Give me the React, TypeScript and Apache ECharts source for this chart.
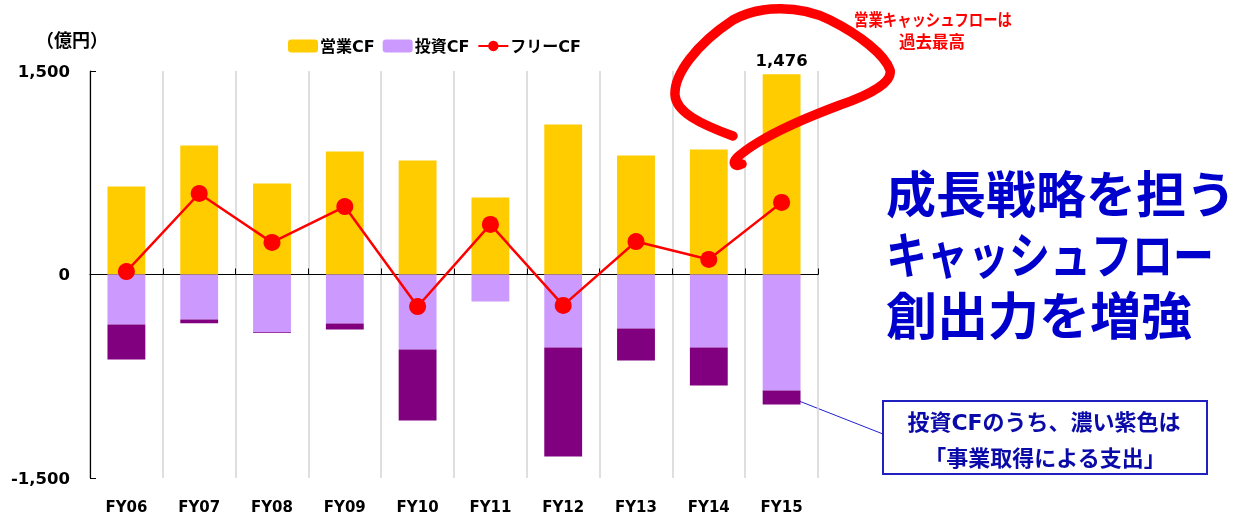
import React, { useEffect, useRef } from "react";
import * as echarts from "echarts";

const categories = ["FY06", "FY07", "FY08", "FY09", "FY10", "FY11", "FY12", "FY13", "FY14", "FY15"];
const operatingCF = [649, 951, 671, 907, 840, 568, 1106, 877, 921, 1476];
const investingCF = [-369, -332, -425, -361, -553, -199, -538, -398, -538, -855];
const acquisitionCF = [-258, -27, -7, -44, -523, 0, -803, -236, -280, -103];
const freeCF = [22, 597, 236, 501, -236, 369, -228, 243, 111, 531];
const yMin = -1500;
const yMax = 1500;
const yInterval = 1500;
const legendNames = ["営業CF", "投資CF", "フリーCF"];
const highlightIndex = 9;

const LATIN = "'DejaVu Sans', 'Noto Sans CJK JP', sans-serif";
const CJK = "'Noto Sans CJK JP', sans-serif";

const loopPath =
  "M 733 136 C 700 124 676 112 675 95 C 674 75 695 45 733 20 C 760 5 800 5 830 20 C 860 35 885 55 890 70 C 893 82 870 95 840 105 C 800 120 760 138 740 155 C 730 163 735 168 742 164";

let registered = false;

export default function App() {
  const ref = useRef<HTMLDivElement>(null);
  useEffect(() => {
    if (!ref.current) return;
    if (!registered) {
      echarts.graphic.registerShape("loop", echarts.graphic.extendPath(loopPath, {}));
      registered = true;
    }
    const chart = echarts.init(ref.current, null, { renderer: "svg" });
    const blue = "#0000cc";
    chart.setOption({
      animation: false,
      textStyle: { fontFamily: LATIN },
      grid: { left: 90, right: 427, top: 71, bottom: 42, containLabel: false },
      legend: {
        data: legendNames,
        left: 283,
        top: 33,
        itemWidth: 30,
        itemHeight: 13,
        itemGap: 8,
        textStyle: { fontFamily: LATIN, fontWeight: "bold", fontSize: 16, color: "#000", padding: [0, 0, 0, -3] },
      },
      xAxis: [
        {
          type: "category",
          data: categories,
          axisLine: { onZero: true, lineStyle: { color: "#000", width: 1.2 } },
          axisTick: { show: true, inside: true, length: 6, interval: 0, lineStyle: { color: "#000" } },
          axisLabel: { show: false },
          splitLine: { show: true, interval: 0, lineStyle: { color: "#d4d4d4", width: 1.5 } },
        },
        {
          type: "category",
          data: categories,
          position: "bottom",
          axisLine: { show: false, onZero: false },
          axisTick: { show: false },
          splitLine: { show: false },
          axisLabel: { margin: 21, fontSize: 15, fontWeight: "bold", color: "#000", fontFamily: LATIN },
        },
      ],
      yAxis: {
        type: "value",
        min: yMin,
        max: yMax,
        interval: yInterval,
        axisLine: { show: true, lineStyle: { color: "#000", width: 1.2 } },
        axisTick: { show: true, inside: true, length: 6, lineStyle: { color: "#000" } },
        splitLine: { show: false },
        axisLabel: {
          margin: 20,
          fontSize: 16.5,
          fontWeight: "bold",
          color: "#000",
          fontFamily: LATIN,
          formatter: (v: number) => v.toLocaleString("en-US"),
        },
      },
      series: [
        {
          name: "営業CF",
          type: "bar",
          stack: "cf",
          barWidth: "52%",
          itemStyle: { color: "#FFCC00" },
          data: operatingCF.map((v, i) =>
            i === highlightIndex
              ? {
                  value: v,
                  label: {
                    show: true,
                    position: "top",
                    distance: 6,
                    formatter: (p: any) => Number(p.value).toLocaleString("en-US"),
                    fontSize: 16.5,
                    fontWeight: "bold",
                    color: "#000",
                    fontFamily: LATIN,
                  },
                }
              : v
          ),
        },
        {
          name: "投資CF",
          type: "bar",
          stack: "cf",
          barWidth: "52%",
          itemStyle: { color: "#CC99FF" },
          data: investingCF,
        },
        {
          name: "事業取得",
          type: "bar",
          stack: "cf",
          barWidth: "52%",
          itemStyle: { color: "#800080" },
          data: acquisitionCF,
        },
        {
          name: "フリーCF",
          type: "line",
          data: freeCF,
          symbol: "circle",
          symbolSize: 17,
          z: 5,
          itemStyle: { color: "#FF0000" },
          lineStyle: { color: "#FF0000", width: 2.5 },
        },
      ],
      graphic: [
        {
          type: "text",
          x: 72,
          y: 39,
          style: {
            text: "（億円）",
            textAlign: "center",
            textVerticalAlign: "middle",
            fontSize: 18,
            fontWeight: "bold",
            fontFamily: CJK,
            fill: "#000",
          },
        },
        {
          type: "loop",
          x: 0,
          y: 0,
          z: 10,
          style: { stroke: "#FF0000", fill: null, lineWidth: 9.5, lineCap: "round", lineJoin: "round" },
        },
        {
          type: "text",
          x: 933,
          y: 19,
          scaleX: 0.87,
          style: {
            text: "営業キャッシュフローは",
            textAlign: "center",
            textVerticalAlign: "middle",
            fontSize: 16.5,
            fontWeight: "bold",
            fontFamily: CJK,
            fill: "#FF0000",
          },
        },
        {
          type: "text",
          x: 932,
          y: 41,
          style: {
            text: "過去最高",
            textAlign: "center",
            textVerticalAlign: "middle",
            fontSize: 16.5,
            fontWeight: "bold",
            fontFamily: CJK,
            fill: "#FF0000",
          },
        },
        {
          type: "text",
          x: 886,
          y: 191,
          style: {
            text: "成長戦略を担う",
            textAlign: "left",
            textVerticalAlign: "middle",
            fontSize: 50,
            fontWeight: "bold",
            fontFamily: CJK,
            fill: blue,
          },
        },
        {
          type: "text",
          x: 886,
          y: 252,
          scaleX: 0.82,
          style: {
            text: "キャッシュフロー",
            textAlign: "left",
            textVerticalAlign: "middle",
            fontSize: 50,
            fontWeight: "bold",
            fontFamily: CJK,
            fill: blue,
          },
        },
        {
          type: "text",
          x: 886,
          y: 313,
          style: {
            text: "創出力を増強",
            textAlign: "left",
            textVerticalAlign: "middle",
            fontSize: 51,
            fontWeight: "bold",
            fontFamily: CJK,
            fill: blue,
          },
        },
        {
          type: "line",
          shape: { x1: 799, y1: 401, x2: 883, y2: 434 },
          style: { stroke: "#2020d0", lineWidth: 1 },
        },
        {
          type: "rect",
          shape: { x: 883, y: 401, width: 324, height: 73 },
          style: { stroke: "#2020c0", lineWidth: 2, fill: "#fff" },
        },
        {
          type: "text",
          x: 1044,
          y: 422,
          style: {
            text: "投資CFのうち、濃い紫色は",
            textAlign: "center",
            textVerticalAlign: "middle",
            fontSize: 22,
            fontWeight: "bold",
            fontFamily: LATIN,
            fill: "#0a0aa8",
          },
        },
        {
          type: "text",
          x: 1045,
          y: 456,
          style: {
            text: "「事業取得による支出」",
            textAlign: "center",
            textVerticalAlign: "middle",
            fontSize: 22,
            fontWeight: "bold",
            fontFamily: CJK,
            fill: "#0a0aa8",
          },
        },
      ],
    });
    return () => chart.dispose();
  }, []);
  return <div ref={ref} style={{ position: "fixed", left: 0, top: 0, width: 1245, height: 520 }} />;
}
